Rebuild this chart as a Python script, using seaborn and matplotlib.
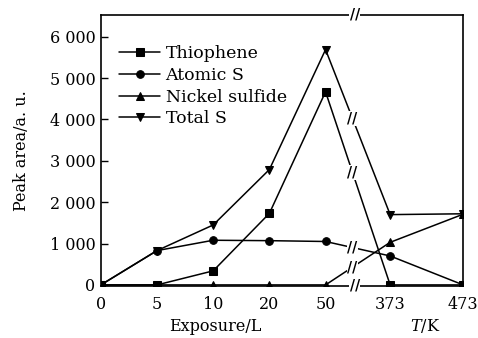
import numpy as np
import pandas as pd
import matplotlib
matplotlib.use("Agg")
import matplotlib.pyplot as plt
import seaborn as sns

# x categories: exposure (L) then temperature (K), plotted on a broken axis
x_labels = ["0", "5", "10", "20", "50", "373", "473"]
x_pos = [0, 1, 2, 3, 4, 5.15, 6.45]

thiophene = [0, 0, 340, 1730, 4670, 0, 0]
atomic_s = [0, 830, 1080, 1070, 1050, 700, 0]
nickel_sulfide = [0, 0, 0, 0, 0, 1030, 1710]
total_s = [0, 830, 1450, 2790, 5690, 1700, 1720]

series_names = ["Thiophene", "Atomic S", "Nickel sulfide", "Total S"]
series_vals = [thiophene, atomic_s, nickel_sulfide, total_s]

rows = []
for name, vals in zip(series_names, series_vals):
    for xp, v in zip(x_pos, vals):
        rows.append({"x": xp, "y": v, "series": name})
df = pd.DataFrame(rows)

sns.set_style("ticks")
plt.rcParams["font.family"] = ["DejaVu Serif"]
plt.rcParams["mathtext.fontset"] = "dejavuserif"
plt.rcParams["text.color"] = "black"
plt.rcParams["xtick.color"] = "black"
plt.rcParams["ytick.color"] = "black"
plt.rcParams["axes.labelcolor"] = "black"

fig = plt.figure(figsize=(4.78, 3.38), dpi=100)
ax = fig.add_axes([0.211, 0.154, 0.758, 0.802])

markers = {"Thiophene": "s", "Atomic S": "o", "Nickel sulfide": "^", "Total S": "v"}
sns.lineplot(data=df, x="x", y="y", hue="series", style="series",
             hue_order=series_names, style_order=series_names,
             palette=["black"] * 4, markers=markers, dashes=False,
             markersize=5.5, linewidth=1.1, markeredgecolor="black", ax=ax)

ax.set_xlim(0, 6.45)
ax.set_ylim(-25, 6530)
ax.set_xticks(x_pos)
ax.set_xticklabels(x_labels)
ax.set_yticks([0, 1000, 2000, 3000, 4000, 5000, 6000])
ax.set_yticklabels(["0", "1 000", "2 000", "3 000", "4 000", "5 000", "6 000"])
ax.tick_params(axis="y", direction="in", length=5, width=1, labelsize=11.5, pad=4)
ax.tick_params(axis="x", direction="in", length=0, labelsize=11.5, pad=7)
for s in ax.spines.values():
    s.set_linewidth(1.2)
    s.set_color("black")

ax.set_xlabel("")
ax.set_ylabel("Peak area/a. u.", fontsize=11.5, labelpad=14)
fig.text(0.45, 0.02, "Exposure/L", ha="center", fontsize=11.5)
fig.text(0.89, 0.02, r"$T$/K", ha="center", fontsize=11.5)

# break marks between 50 and 373
xb = 4.48
brk_kw = dict(ha="center", va="center", fontsize=10, fontweight="bold",
              bbox=dict(facecolor="white", edgecolor="none", pad=0.3))
for vals in [thiophene, atomic_s, nickel_sulfide, total_s]:
    yb = np.interp(xb, x_pos[4:6], vals[4:6])
    ax.text(xb, yb, "//", zorder=5, **brk_kw)
ax.text(4.52, 6530, "//", zorder=6, clip_on=False, **brk_kw)
ax.text(4.52, -25, "//", zorder=6, clip_on=False, **brk_kw)

leg = ax.legend(loc="upper left", bbox_to_anchor=(0.03, 0.915), frameon=False,
                fontsize=12.5, handlelength=2.4, handletextpad=0.3,
                labelspacing=0.28, borderaxespad=0)

fig.savefig("out.png", dpi=100)
